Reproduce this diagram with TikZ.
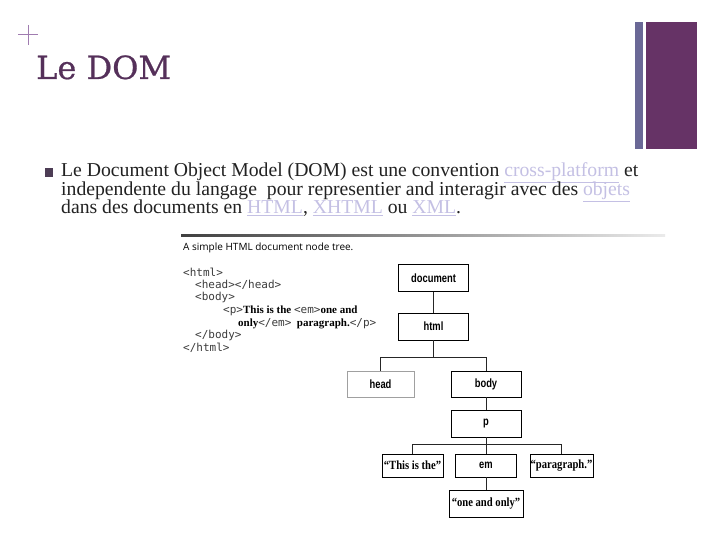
\documentclass[tikz,border=0pt]{standalone}
\usepackage{fontspec}
\setmainfont{Liberation Serif}
\newfontfamily\titlefont[FakeBold=0.6]{DejaVu Serif}
\newfontfamily\codefont{DejaVu Sans Mono}
\newfontfamily\capfont{Open Sans}
\newfontfamily\treefont[FakeStretch=0.78]{Liberation Sans}
\newfontfamily\leaffont[FakeStretch=0.85]{Liberation Serif}
\usepackage{xcolor}
\definecolor{dompurple}{RGB}{102, 51, 102}
\definecolor{domslate}{RGB}{106, 104, 150}
\definecolor{domplus}{RGB}{160, 124, 176}
\definecolor{domtitle}{RGB}{85, 48, 90}
\definecolor{dombullet}{RGB}{77, 61, 85}
\definecolor{domtext}{RGB}{34, 34, 34}
\definecolor{domlink}{RGB}{196, 192, 228}
\definecolor{domgray}{RGB}{160, 160, 160}
\definecolor{domcode}{RGB}{60, 60, 60}
\usetikzlibrary{calc}
\newcommand{\lnk}[1]{\textcolor{domlink}{\underline{#1}}}
\newcommand{\bs}[1]{{\rmfamily\bfseries\color{black}#1}}

\begin{document}
\begin{tikzpicture}[x=1pt, y=-1pt,
    treebox/.style={draw, line width=0.9pt, inner sep=0pt,
        minimum width=70pt, minimum height=27pt,
        font=\treefont\bfseries\fontsize{12}{12}\selectfont},
    leafbox/.style={draw, line width=0.9pt, inner sep=0pt,
        minimum height=23pt,
        font=\leaffont\bfseries\fontsize{12.5}{12.5}\selectfont},
    codeline/.style={anchor=base west, inner sep=0pt, text=domcode,
        font=\codefont\fontsize{11}{11}\selectfont},
    twig/.style={line width=0.7pt, black!85}]

\fill[white] (0,0) rectangle (720,540);
\useasboundingbox (0,0) rectangle (720,540);

% =====================================================
% CABECERA DE LA DIAPOSITIVA
% =====================================================

% --- Barras de la derecha ---
\fill[domslate] (635,22) rectangle (643,149);
\fill[dompurple] (646,22) rectangle (697,149);

% --- Signo + y titulo ---
\draw[domplus, line width=1pt] (18,35) -- (38,35) (28,25) -- (28,45);
\node[anchor=base west, inner sep=0pt, text=domtitle,
      font=\titlefont\fontsize{32}{32}\selectfont] (title) at (36,79) {Le DOM};

% --- Texto con vineta ---
\fill[dombullet] (45,168) rectangle (53,177);
\foreach \txt [count=\i] in {
    {Le Document Object Model (DOM) est une convention \lnk{cross-platform} et},
    {independente du langage~ pour representier and interagir avec des \lnk{objets}},
    {dans des documents en \lnk{HTML}, \lnk{XHTML} ou \lnk{XML}.}} {
    \node[anchor=base west, inner sep=0pt, text=domtext,
          font=\fontsize{19.7}{19.7}\selectfont] (line\i) at (61, 158.5+18.5*\i) {\txt};
}

% =====================================================
% FIGURA: ARBOL DE NODOS
% =====================================================

% --- Filete superior y leyenda ---
\shade[left color=black!75, right color=black!8] (181,234.5) rectangle (665,236);
\node[anchor=base west, inner sep=0pt,
      font=\capfont\fontsize{10}{10}\selectfont] (caption) at (183,251)
    {A simple HTML document node tree.};

% --- Codigo fuente ---
\node[codeline] (c1) at (183,276) {<html>};
\node[codeline] (c2) at (195,288) {<head></head>};
\node[codeline] (c3) at (195,300) {<body>};
\node[codeline] (c4) at (223,313) {<p>\bs{This is the }<em>\bs{one and}};
\node[codeline] (c5) at (238,326) {\bs{only}</em>\bs{~ paragraph.}</p>};
\node[codeline] (c6) at (195,338) {</body>};
\node[codeline] (c7) at (183,351) {</html>};

% --- Cajas del arbol ---
\node[treebox] (document) at (433.5,278) {document};
\node[treebox] (html) at (433.5,326.5) {html};
\node[treebox, draw=domgray, minimum width=67pt, minimum height=26pt] (head) at (380.5,384) {head};
\node[treebox, minimum height=26pt] (body) at (486,384) {body};
\node[treebox] (p) at (486,423.5) {p};
\node[leafbox, minimum width=61pt] (this) at (412.5,465.5) {“This is the”};
\node[treebox, minimum width=61pt, minimum height=23pt] (em) at (486,465.5) {em};
\node[leafbox, minimum width=63pt] (para) at (561.5,465.5) {“paragraph.”};
\node[leafbox, minimum width=74pt, minimum height=27pt] (one) at (486,503.5) {“one and only”};

% --- Ramas ---
\draw[twig] (document) -- (html);
\draw[twig] (html.south) -- ++(0,17) coordinate (fork1);
\draw[twig] (fork1) -| (head.north);
\draw[twig] (fork1) -| (body.north);
\draw[twig] (body) -- (p);
\draw[twig] (p.south) -- ++(0,7) coordinate (fork2);
\foreach \leaf in {this, em, para} {
    \draw[twig] (fork2) -| (\leaf.north);
}
\draw[twig] (em) -- (one);

\end{tikzpicture}
\end{document}
